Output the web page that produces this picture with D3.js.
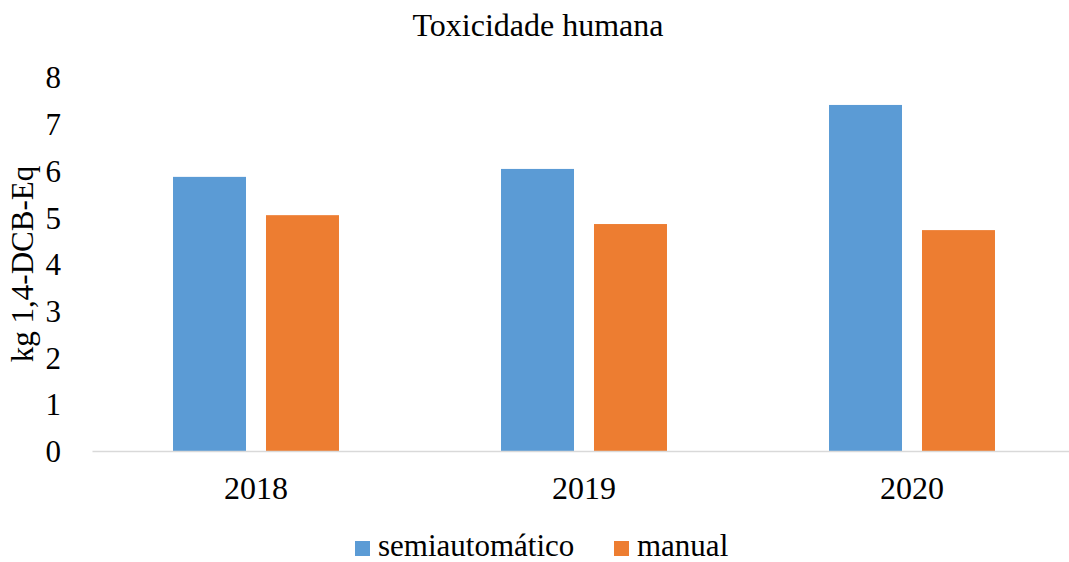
<!DOCTYPE html>
<html>
<head>
<meta charset="utf-8">
<script src="https://cdn.jsdelivr.net/npm/d3@7"></script>
</head>
<body style="margin:0">
<script>
var years = ['2018', '2019', '2020'];
var series = ['semiautomático', 'manual'];
var semiautomatico = [5.87, 6.04, 7.41];
var manual = [5.05, 4.86, 4.73];
var yTicks = [0, 1, 2, 3, 4, 5, 6, 7, 8];
var colors = ['#5b9bd5', '#ed7d31'];

var chartWidth = 1069, chartHeight = 562;
var textSize = '31px';
var textFont = '"Liberation Serif"';

var svg = d3.select('body').append('svg')
  .attr('width', chartWidth)
  .attr('height', chartHeight);

var x0 = d3.scaleBand()
  .domain(years)
  .range([92, 1076])
  .padding(0);

var groupWidth = x0.bandwidth() * 0.506;

var x1 = d3.scaleBand()
  .domain(series)
  .range([(x0.bandwidth() - groupWidth) / 2, (x0.bandwidth() + groupWidth) / 2])
  .paddingInner(0.215);

var y = d3.scaleLinear()
  .domain([0, 8])
  .range([451, 77.4]);

var color = d3.scaleOrdinal()
  .domain(series)
  .range(colors);

var rows = years.map(function(d, i) {
  return {year: d, values: [
    {key: series[0], value: semiautomatico[i]},
    {key: series[1], value: manual[i]}
  ]};
});

// title
svg.append('text')
  .attr('x', 538)
  .attr('y', 36)
  .attr('text-anchor', 'middle')
  .style('font-family', textFont)
  .style('font-size', '32px')
  .text('Toxicidade humana');

// bars
var groups = svg.selectAll('g.year')
  .data(rows)
  .enter()
  .append('g')
  .attr('class', 'year')
  .attr('transform', function(d) { return 'translate(' + x0(d.year) + ',0)' });

groups.selectAll('rect')
  .data(function(d) { return d.values })
  .enter()
  .append('rect')
  .attr('x', function(d) { return x1(d.key) })
  .attr('width', x1.bandwidth())
  .attr('y', function(d) { return y(d.value) })
  .attr('height', function(d) { return y(0) - y(d.value) })
  .attr('fill', function(d) { return color(d.key) });

// x axis
var xAxis = svg.append('g')
  .attr('transform', 'translate(0,' + y(0) + ')')
  .call(d3.axisBottom(x0).tickSize(0).tickPadding(48));

xAxis.select('.domain')
  .attr('stroke', '#d9d9d9')
  .attr('stroke-width', 1.5);

xAxis.selectAll('text')
  .attr('dy', 0)
  .attr('fill', '#000')
  .style('font-family', textFont)
  .style('font-size', '32px');

// y axis
var yAxis = svg.append('g')
  .attr('transform', 'translate(92,0)')
  .call(d3.axisLeft(y).tickValues(yTicks).tickSize(0).tickPadding(31).tickFormat(d3.format('d')));

yAxis.select('.domain').remove();
yAxis.selectAll('text')
  .attr('dy', '0.34em')
  .attr('fill', '#000')
  .style('font-family', textFont)
  .style('font-size', textSize);

// y label
svg.append('text')
  .attr('transform', 'translate(33,264) rotate(-90)')
  .attr('text-anchor', 'middle')
  .style('font-family', textFont)
  .style('font-size', textSize)
  .text('kg 1,4-DCB-Eq');

// legend
var legendX = [355, 614];
var legend = svg.selectAll('g.legend')
  .data(series)
  .enter()
  .append('g')
  .attr('class', 'legend')
  .attr('transform', function(d, i) { return 'translate(' + legendX[i] + ',541)' });

legend.append('rect')
  .attr('width', 15)
  .attr('height', 15)
  .attr('fill', function(d) { return color(d) });

legend.append('text')
  .attr('x', 23)
  .attr('y', 15)
  .style('font-family', textFont)
  .style('font-size', textSize)
  .text(function(d) { return d });
</script>
</body>
</html>
